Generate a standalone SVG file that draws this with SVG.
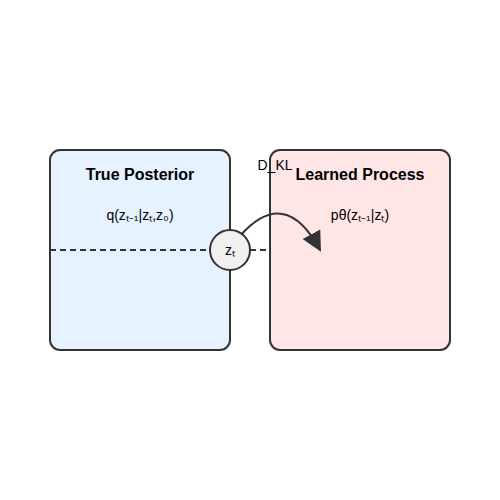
<svg xmlns="http://www.w3.org/2000/svg" width="500" height="500" viewBox="0 0 500 500">
<style>
.box{stroke:#333;stroke-width:2}
.title{font-family:"Liberation Sans",Arial,sans-serif;font-size:16px;font-weight:bold;fill:#000;text-anchor:middle}
.lbl{font-family:"Liberation Sans",Arial,sans-serif;font-size:14px;fill:#000;text-anchor:middle}
.conn{stroke:#333;stroke-width:2;fill:none}
</style>
<defs>
<marker id="arr" viewBox="0 0 10 10" refX="9" refY="5" markerWidth="10" markerHeight="10" markerUnits="userSpaceOnUse" orient="auto">
<path d="M0,0 L10,5 L0,10 Z" fill="#333"/>
</marker>
<marker id="arrBig" viewBox="0 0 10 10" refX="9" refY="5" markerWidth="20" markerHeight="20" markerUnits="userSpaceOnUse" orient="auto">
<path d="M0,0 L10,5 L0,10 Z" fill="#333"/>
</marker>
</defs>
<rect width="500" height="500" fill="#fff"/>
<g id="true-posterior">
<rect class="box" x="50" y="150" width="180" height="200" rx="10" fill="#e6f2ff"/>
<text class="title" x="140" y="180">True Posterior</text>
<text class="lbl" x="140" y="220">q(zₜ₋₁|zₜ,z₀)</text>
</g>
<g id="learned-process">
<rect class="box" x="270" y="150" width="180" height="200" rx="10" fill="#ffe6e6"/>
<text class="title" x="360" y="180">Learned Process</text>
<text class="lbl" x="360" y="220">pθ(zₜ₋₁|zₜ)</text>
</g>
<g id="connectors">
<line x1="50" y1="250" x2="270" y2="250" stroke="#333" stroke-width="2" stroke-dasharray="6,4"/>
<path class="conn" d="M240,236 Q285,185 320,250" marker-end="url(#arrBig)"/>
<text class="lbl" x="275" y="170">D_KL</text>
</g>
<g id="zt">
<circle cx="230" cy="250" r="20" fill="#f0f0f0" stroke="#333" stroke-width="2"/>
<text class="lbl" x="230" y="255">zₜ</text>
</g>
</svg>
